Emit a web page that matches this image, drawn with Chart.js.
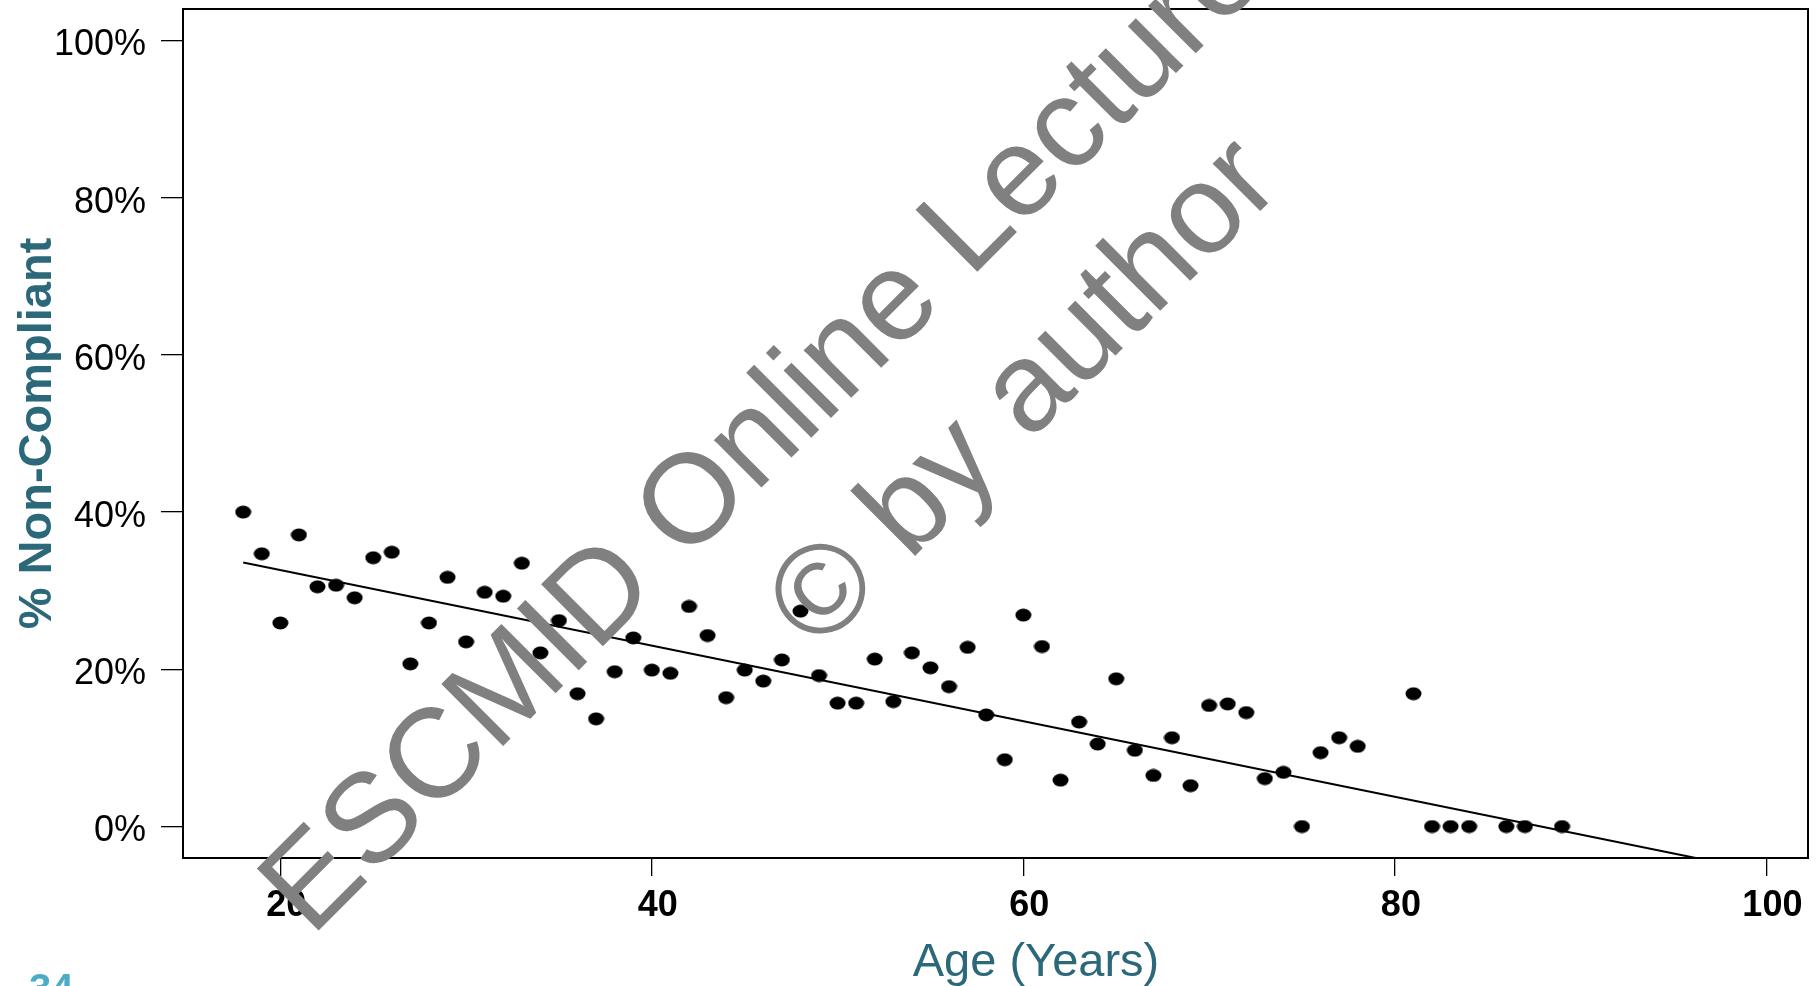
<!DOCTYPE html>
<html>
<head>
<meta charset="utf-8">
<script src="https://cdn.jsdelivr.net/npm/chart.js@4.4.1/dist/chart.umd.min.js"></script>
<style>
  html, body { margin: 0; padding: 0; background: #fff; }
</style>
</head>
<body>
<canvas id="ageChart" width="1818" height="986"></canvas>
<script>
// age (years) and % non-compliant
const ages = [18, 19, 20, 21, 22, 23, 24, 25, 26, 27, 28, 29, 30, 31, 32, 33, 34, 35, 36, 37,
              38, 39, 40, 41, 42, 43, 44, 45, 46, 47, 48, 49, 50, 51, 52, 53, 54, 55, 56, 57,
              58, 59, 60, 61, 62, 63, 64, 65, 66, 67, 68, 69, 70, 71, 72, 73, 74, 75, 76, 77,
              78, 81, 82, 83, 84, 86, 87, 89];
const nonCompliant = [40.0, 34.7, 25.9, 37.1, 30.5, 30.7, 29.1, 34.2, 34.9, 20.7, 25.9, 31.7, 23.5, 29.8, 29.3, 33.5, 22.1, 26.2, 16.9, 13.7,
                      19.7, 24.0, 19.9, 19.5, 28.0, 24.3, 16.4, 19.9, 18.5, 21.2, 27.4, 19.2, 15.7, 15.7, 21.3, 15.9, 22.1, 20.2, 17.8, 22.8,
                      14.2, 8.5, 26.9, 22.9, 5.9, 13.3, 10.5, 18.8, 9.7, 6.5, 11.3, 5.2, 15.4, 15.6, 14.5, 6.1, 6.9, 0, 9.4, 11.3,
                      10.2, 16.9, 0, 0, 0, 0, 0, 0];

// trend line end points as drawn
const fitAges = [18, 96.2];
const fitPct = [33.6, -4];

const xTicks = [20, 40, 60, 80, 100];
const yTicks = [0, 20, 40, 60, 80, 100];

const teal = '#2a687a';
const fontFamily = '"Liberation Sans", Arial, Helvetica, sans-serif';

// slightly wide dot, like the original
const dot = document.createElement('canvas');
dot.width = 17;
dot.height = 14;
const dctx = dot.getContext('2d');
dctx.fillStyle = '#000';
dctx.beginPath();
dctx.ellipse(8.5, 7, 8, 6.5, 0, 0, Math.PI * 2);
dctx.fill();

const framePlugin = {
  id: 'frame',
  afterDraw(chart) {
    const { ctx, chartArea } = chart;
    ctx.save();
    // plot box
    ctx.strokeStyle = '#000';
    ctx.lineWidth = 2;
    ctx.strokeRect(chartArea.left, chartArea.top, chartArea.right - chartArea.left, chartArea.bottom - chartArea.top);

    // x axis title
    ctx.fillStyle = teal;
    ctx.font = '47px ' + fontFamily;
    ctx.textAlign = 'center';
    ctx.textBaseline = 'alphabetic';
    ctx.fillText('Age (Years)', 1036, 976);

    // slide number, cut by the bottom edge
    ctx.fillStyle = '#4bacc6';
    ctx.font = 'bold 40px ' + fontFamily;
    ctx.textAlign = 'left';
    ctx.fillText('34', 29, 1002);

    // watermark
    ctx.fillStyle = '#808080';
    ctx.font = '127px ' + fontFamily;
    ctx.textAlign = 'center';
    ctx.translate(940, 309);
    ctx.rotate(-Math.PI / 4);
    ctx.fillText('ESCMID Online Lecture Library', 0, 0);
    ctx.fillText('\u00a9 by author', 0, 157);
    ctx.restore();
  }
};

const ctx = document.getElementById('ageChart').getContext('2d');
const ageChart = new Chart(ctx, {
  type: 'scatter',
  data: {
    datasets: [{
      label: 'Non-compliant',
      data: ages.map((a, i) => ({ x: a, y: nonCompliant[i] })),
      pointStyle: dot,
      pointRadius: 8,
      backgroundColor: '#000',
      borderColor: '#000'
    }, {
      label: 'Trend',
      data: fitAges.map((a, i) => ({ x: a, y: fitPct[i] })),
      showLine: true,
      pointRadius: 0,
      borderColor: '#000',
      borderWidth: 2
    }]
  },
  options: {
    responsive: false,
    animation: false,
    devicePixelRatio: 1,
    layout: { padding: { top: 9, right: 10, left: 0, bottom: 0 } },
    plugins: {
      legend: { display: false },
      tooltip: { enabled: false }
    },
    scales: {
      x: {
        type: 'linear',
        min: 14.76,
        max: 102.24,
        afterBuildTicks: s => { s.ticks = xTicks.map(v => ({ value: v })); },
        afterFit: s => { s.height = 128; s.paddingLeft = 0; s.paddingRight = 0; },
        border: { display: false },
        grid: { drawOnChartArea: false, drawTicks: true, tickLength: 18, color: '#000', lineWidth: 1.3 },
        ticks: {
          color: '#000',
          font: { family: fontFamily, size: 36, weight: 'bold' },
          padding: 8,
          labelOffset: 6,
          maxRotation: 0,
          autoSkip: false
        }
      },
      y: {
        min: -4,
        max: 104,
        afterBuildTicks: s => { s.ticks = yTicks.map(v => ({ value: v })); },
        afterFit: s => { s.width = 183; s.paddingTop = 0; s.paddingBottom = 0; },
        border: { display: false },
        grid: { drawOnChartArea: false, drawTicks: true, tickLength: 22, color: '#000', lineWidth: 1.3 },
        ticks: {
          color: '#000',
          font: { family: fontFamily, size: 36 },
          padding: 15,
          labelOffset: 5,
          autoSkip: false,
          callback: v => v + '%'
        },
        title: {
          display: true,
          text: '% Non-Compliant',
          color: teal,
          font: { family: fontFamily, size: 47, weight: 'bold' },
          padding: { top: 10, bottom: 0 }
        }
      }
    }
  },
  plugins: [framePlugin]
});
</script>
</body>
</html>
